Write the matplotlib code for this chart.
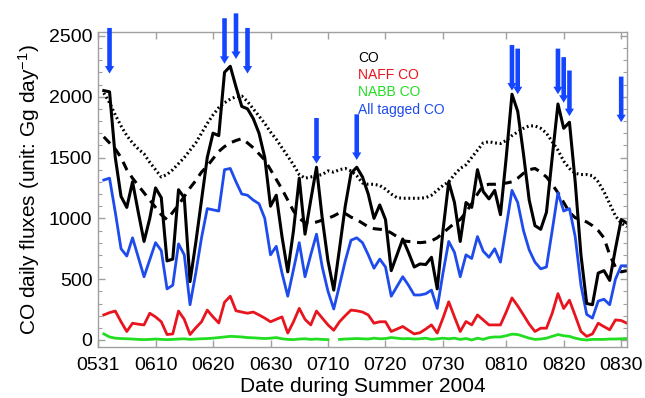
import numpy as np
import pandas as pd
import matplotlib
matplotlib.use('Agg')
import matplotlib.pyplot as plt
from matplotlib.ticker import MultipleLocator

plt.rcParams['font.family'] = ['Liberation Sans', 'DejaVu Sans']
plt.rcParams['mathtext.default'] = 'regular'

dates = pd.date_range('2004-06-01', '2004-08-31', freq='D')

co = [2050, 2040, 1500, 1180, 1090, 1300, 1050, 810, 1000, 1250,
      1170, 650, 665, 1235, 1170, 480, 800, 1150, 1500, 1700,
      1680, 2200, 2250, 2080, 1920, 1900, 1820, 1700, 1500, 1100,
      1190, 850, 560, 900, 1330, 870, 1150, 1420, 1000, 650,
      410, 750, 1100, 1370, 1420, 1340, 1200, 1000, 1110, 990,
      570, 700, 830, 720, 600, 625, 620, 680, 420, 900,
      1300, 1130, 810, 1130, 1090, 1400, 1220, 1160, 1230, 1030,
      1500, 2020, 1880, 1530, 1150, 940, 910, 1050, 1500, 1940,
      1740, 1790, 1300, 700, 300, 290, 550, 570, 490, 750,
      990, 960]

tagged = [1315, 1330, 1050, 750, 690, 840, 680, 520, 660, 800,
          735, 420, 450, 790, 700, 290, 550, 840, 1080, 1070,
          1060, 1400, 1410, 1300, 1200, 1190, 1150, 1120, 1000, 700,
          770, 550, 360, 580, 800, 520, 700, 870, 600, 400,
          255, 450, 650, 820, 840, 800, 700, 590, 665, 600,
          360, 440, 520, 450, 370, 370, 380, 410, 260, 550,
          810, 720, 520, 700, 670, 850, 730, 680, 750, 640,
          930, 1230, 1130, 900, 740, 640, 585, 600, 900, 1210,
          1060, 1080, 850, 450, 210, 180, 320, 335, 290, 500,
          610, 610]

naff = [206, 225, 238, 150, 70, 138, 130, 124, 220, 190,
        150, 45, 50, 238, 170, 45, 100, 150, 246, 190,
        140, 310, 360, 240, 230, 220, 230, 206, 180, 150,
        170, 190, 57, 150, 260, 170, 124, 238, 180, 124,
        80, 150, 200, 246, 240, 230, 206, 138, 150, 150,
        70, 90, 111, 80, 50, 60, 90, 124, 57, 180,
        314, 190, 70, 152, 124, 206, 165, 124, 124, 124,
        230, 346, 280, 206, 130, 70, 97, 97, 220, 381,
        259, 327, 200, 70, 30, 50, 138, 110, 84, 165,
        160, 138]

nabb = [50, 25, 15, 12, 10, 8, 5, 3, 5, 8,
        5, 3, 5, 8, 10, 5, 8, 10, 12, 15,
        20, 25, 30, 28, 25, 20, 18, 15, 12, 15,
        20, 10, 5, 3, 8, 10, 5, 8, 5, 3,
        np.nan, 5, 8, 10, 12, 10, 8, 15, 10, 12,
        20, 15, 10, 12, 8, 10, 15, 5, 10, 15,
        10, 15, 5, 12, 0, 15, 5, 20, 25, 25,
        35, 48, 45, 30, 15, 5, 8, 15, 30, 45,
        35, 30, 15, 5, 0, 5, 5, 5, 8, 8,
        10, 12]

co_dotted = [2030, 1950, 1850, 1760, 1680, 1620, 1570, 1530, 1460, 1400,
             1340, 1360, 1400, 1450, 1500, 1560, 1620, 1700, 1780, 1850,
             1910, 1950, 1980, 2000, 2005, 1960, 1900, 1840, 1780, 1710,
             1650, 1580, 1510, 1440, 1360, 1330, 1340, 1350, 1360, 1390,
             1380, 1400, 1410, 1390, 1350, 1290, 1280, 1280, 1270, 1240,
             1200, 1170, 1165, 1165, 1165, 1165, 1170, 1190, 1230, 1270,
             1300, 1360, 1410, 1440, 1500, 1560, 1620, 1630, 1620, 1615,
             1640, 1680, 1710, 1740, 1760, 1760, 1740, 1700, 1630, 1560,
             1470, 1410, 1370, 1360, 1360, 1350, 1300, 1220, 1120, 1020,
             960, 930]

co_dashed = [1670, 1620, 1570, 1500, 1400, 1330, 1270, 1210, 1150, 1090,
             1030, 990, 1050, 1110, 1180, 1250, 1310, 1380, 1430, 1490,
             1550, 1590, 1620, 1640, 1655, 1620, 1580, 1530, 1480, 1400,
             1320, 1240, 1150, 1060, 1000, 965, 960, 970, 985, 1000,
             1020, 1045, 1040, 1010, 990, 960, 930, 915, 910, 905,
             880, 850, 815, 810, 805, 800, 805, 815, 840, 880,
             920, 960, 990, 1050, 1120, 1200, 1270, 1280, 1280, 1285,
             1290, 1300, 1330, 1370, 1400, 1410, 1380, 1340, 1280, 1210,
             1130, 1050, 1005, 990, 970, 940, 900, 840, 700, 600,
             560, 570]

arrow_dates = ['2004-06-02', '2004-06-22', '2004-06-24', '2004-06-26',
               '2004-07-08', '2004-07-15', '2004-08-11', '2004-08-12',
               '2004-08-19', '2004-08-20', '2004-08-21', '2004-08-30']
arrow_tips = [2190, 2270, 2310, 2190, 1450, 1480, 2050, 2020, 2020, 1950, 1840, 1790]
arrow_len = 375

tick_dates = ['2004-05-31', '2004-06-10', '2004-06-20', '2004-06-30', '2004-07-10',
              '2004-07-20', '2004-07-30', '2004-08-10', '2004-08-20', '2004-08-30']
tick_labels = ['0531', '0610', '0620', '0630', '0710', '0720', '0730', '0810', '0820', '0830']

legend_labels = ['CO', 'NAFF CO', 'NABB CO', 'All tagged CO']

c_black = '#000000'
c_red = '#E8141E'
c_green = '#22DD22'
c_blue = '#1E4BEB'
c_arrow = '#1446FF'
c_frame = '#a0a0a0'

fig = plt.figure(figsize=(6.45, 3.98), dpi=100)
ax = fig.add_axes([0.152, 0.128, 0.820, 0.792])

ax.plot(dates, co_dotted, color=c_black, lw=2.2, linestyle=(0, (0.6, 0.9)))
ax.plot(dates, co_dashed, color=c_black, lw=2.2, linestyle=(0, (3, 2.2)))
ax.plot(dates, nabb, color=c_green, lw=2.0)
ax.plot(dates, naff, color=c_red, lw=2.0)
ax.plot(dates, tagged, color=c_blue, lw=2.0)
ax.plot(dates, co, color=c_black, lw=2.2)

for d, tip in zip(arrow_dates, arrow_tips):
    dd = pd.Timestamp(d)
    ax.annotate('', xy=(dd, tip), xytext=(dd, tip + arrow_len),
                arrowprops=dict(arrowstyle='simple,head_length=0.9,head_width=1.1,tail_width=0.55',
                                mutation_scale=6, color=c_arrow, lw=0, shrinkA=0, shrinkB=0),
                annotation_clip=False)

ax.set_xlim(pd.Timestamp('2004-05-31'), pd.Timestamp('2004-08-31'))
ax.set_ylim(-58, 2533)
ax.set_xticks([pd.Timestamp(t) for t in tick_dates])
ax.set_xticklabels(tick_labels)
ax.set_yticks([0, 500, 1000, 1500, 2000, 2500])
ax.yaxis.set_minor_locator(MultipleLocator(100))

for sp in ax.spines.values():
    sp.set_color(c_frame)
    sp.set_linewidth(1.0)
ax.tick_params(which='both', direction='in', top=True, right=True, color=c_frame)
ax.tick_params(which='major', length=5, width=1, labelsize=14)
ax.tick_params(which='minor', length=3, width=0.8)
ax.tick_params(axis='x', which='major', pad=7)
ax.tick_params(axis='y', which='major', pad=4)

ax.set_xlabel('Date during Summer 2004', fontsize=15, labelpad=2)
ax.set_ylabel('CO daily fluxes (unit: Gg day$^{-1}$)', fontsize=15, labelpad=5)

leg_colors = [c_black, c_red, c_green, c_blue]
leg_y = [0.917, 0.863, 0.810, 0.752]
for lab, col, yy in zip(legend_labels, leg_colors, leg_y):
    ax.text(0.4915, yy, lab, color=col, fontsize=10, transform=ax.transAxes,
            ha='left', va='center')

fig.savefig('out.png', dpi=100)
